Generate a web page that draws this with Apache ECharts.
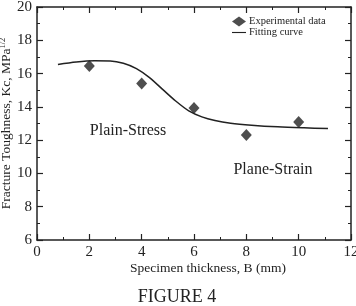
<!DOCTYPE html>
<html>
<head>
<meta charset="utf-8">
<script src="https://cdn.jsdelivr.net/npm/echarts@6/dist/echarts.min.js"></script>
<style>
  html, body { margin: 0; padding: 0; background: #fff; }
  #chart { width: 356px; height: 306px; }
</style>
</head>
<body>
<div id="chart"></div>
<script>
  // measured points
  const thickness = [2, 4, 6, 8, 10];
  const kcMeasured = [16.45, 15.4, 13.93, 12.31, 13.09];
  // fitting curve
  const fitThickness = [0.8, 1.5, 2.2, 2.8, 3.3, 3.8, 4.3, 4.8, 5.3, 5.8, 6.3, 6.8, 7.4, 8.2, 9.2, 10.2, 11.12];
  const fitKc = [16.55, 16.7, 16.77, 16.76, 16.62, 16.3, 15.76, 15.05, 14.35, 13.76, 13.4, 13.18, 13.02, 12.9, 12.8, 12.74, 12.7];
  const xTicks = [0, 2, 4, 6, 8, 10, 12];
  const yTicks = [6, 8, 10, 12, 14, 16, 18, 20];

  const serif = 'Liberation Serif';
  const ink = '#222';

  let myChart = echarts.init(document.getElementById('chart'));

  function axisBase(showLabel) {
    return {
      type: 'value',
      interval: 2,
      axisLine: { show: true, onZero: false, lineStyle: { color: ink, width: 1.5 } },
      axisTick: { show: true, inside: true, length: 6, lineStyle: { color: ink, width: 1.2 } },
      minorTick: { show: true, splitNumber: 2, length: 3, lineStyle: { color: ink, width: 1 } },
      splitLine: { show: false },
      axisLabel: { show: showLabel, color: ink, fontFamily: serif, fontSize: 15, margin: 5 }
    };
  }

  let xMain = Object.assign(axisBase(true), {
    min: xTicks[0], max: xTicks[xTicks.length - 1], position: 'bottom',
    name: 'Specimen thickness, B (mm)', nameLocation: 'middle', nameGap: 21, nameMoveOverlap: false,
    nameTextStyle: { color: ink, fontFamily: serif, fontSize: 13.5, padding: [0, 0, 0, 28] }
  });
  let xTop = Object.assign(axisBase(false), {
    min: xTicks[0], max: xTicks[xTicks.length - 1], position: 'top'
  });
  let yMain = Object.assign(axisBase(true), {
    min: yTicks[0], max: yTicks[yTicks.length - 1], position: 'left',
    name: '{a|Fracture Toughness, Kc, MPa}{b|1/2}', nameLocation: 'middle', nameGap: 22, nameMoveOverlap: false,
    nameTextStyle: {
      color: ink, fontFamily: serif, fontSize: 13.5,
      rich: {
        a: { color: ink, fontFamily: serif, fontSize: 13.5 },
        b: { color: ink, fontFamily: serif, fontSize: 8.5, padding: [0, 0, 8, 0] }
      }
    }
  });
  let yRight = Object.assign(axisBase(false), {
    min: yTicks[0], max: yTicks[yTicks.length - 1], position: 'right'
  });

  let option = {
    backgroundColor: '#fff',
    animation: false,
    grid: { left: 37, right: 5, top: 7, bottom: 66, containLabel: false, outerBoundsMode: 'none' },
    legend: {
      orient: 'vertical',
      left: 232, top: 16,
      padding: 0, itemGap: 0,
      itemWidth: 14, itemHeight: 10,
      textStyle: { color: ink, fontFamily: serif, fontSize: 10.5, padding: [0, 0, 0, -2] },
      data: [
        { name: 'Experimental data', icon: 'diamond' },
        { name: 'Fitting curve', icon: 'path://M0,0 L20,0 L20,1.6 L0,1.6 Z' }
      ]
    },
    xAxis: [xMain, xTop],
    yAxis: [yMain, yRight],
    series: [
      {
        name: 'Fitting curve',
        type: 'line',
        xAxisIndex: 0, yAxisIndex: 0,
        data: fitThickness.map((x, i) => [x, fitKc[i]]),
        smooth: 0.3,
        symbol: 'none',
        lineStyle: { color: ink, width: 1.5 },
        itemStyle: { color: ink },
        z: 2
      },
      {
        name: 'Experimental data',
        type: 'scatter',
        xAxisIndex: 0, yAxisIndex: 0,
        data: thickness.map((x, i) => [x, kcMeasured[i]]),
        symbol: 'diamond',
        symbolSize: [11, 12],
        itemStyle: { color: ink },
        z: 3
      }
    ]
  };
  myChart.setOption(option);

  // text notes, placed through the data scale
  let p1 = myChart.convertToPixel({ xAxisIndex: 0, yAxisIndex: 0 }, [3.48, 12.57]);
  let p2 = myChart.convertToPixel({ xAxisIndex: 0, yAxisIndex: 0 }, [9.02, 10.23]);
  myChart.setOption({
    graphic: [
      { type: 'text', x: p1[0], y: p1[1], style: { text: 'Plain-Stress', fill: ink, font: '16px "Liberation Serif"', textAlign: 'center', textVerticalAlign: 'middle' } },
      { type: 'text', x: p2[0], y: p2[1], style: { text: 'Plane-Strain', fill: ink, font: '16px "Liberation Serif"', textAlign: 'center', textVerticalAlign: 'middle' } },
      { type: 'text', x: 177, y: 297, style: { text: 'FIGURE 4', fill: ink, font: '18px "Liberation Serif"', textAlign: 'center', textVerticalAlign: 'middle' } }
    ]
  });
</script>
</body>
</html>
